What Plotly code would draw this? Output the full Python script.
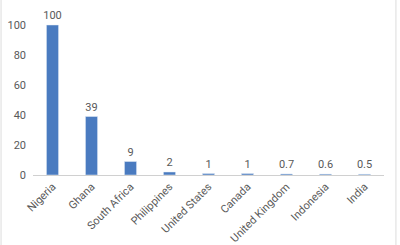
import plotly.graph_objects as go

countries = ["Nigeria", "Ghana", "South Africa", "Philippines", "United States",
             "Canada", "United Kingdom", "Indonesia", "India"]
values = [100, 39, 9, 2, 1, 1, 0.7, 0.6, 0.5]
value_labels = ["100", "39", "9", "2", "1", "1", "0.7", "0.6", "0.5"]
y_ticks = [0, 20, 40, 60, 80, 100]

gray = "#595959"
fig = go.Figure(go.Bar(
    x=countries, y=values, text=value_labels, textposition="outside",
    textfont=dict(size=11, color=gray), marker_color="#4a7bc0",
    cliponaxis=False, constraintext="none",
))
fig.update_layout(
    width=400, height=245, margin=dict(l=33, r=16, t=10, b=70, autoexpand=False),
    paper_bgcolor="white", plot_bgcolor="white",
    font=dict(family="Roboto, Arial, sans-serif", size=11, color=gray),
    bargap=0.69, showlegend=False,
    xaxis=dict(showline=True, linecolor="#d0d0d0", linewidth=1, tickangle=-45,
               ticks="", automargin=False, tickfont=dict(size=11, color=gray)),
    yaxis=dict(range=[0, 110], tickvals=y_ticks, showgrid=False, zeroline=False,
               showline=False, automargin=False, ticklabelstandoff=6,
               tickfont=dict(size=11, color=gray)),
    shapes=[
        dict(type="line", xref="paper", yref="paper", x0=-0.091, x1=-0.091, y0=-0.43, y1=1.07,
             line=dict(color="#dcdcdc", width=1)),
        dict(type="line", xref="paper", yref="paper", x0=1.034, x1=1.034, y0=-0.43, y1=1.07,
             line=dict(color="#dcdcdc", width=1)),
    ],
)
fig.write_html("out.html")
